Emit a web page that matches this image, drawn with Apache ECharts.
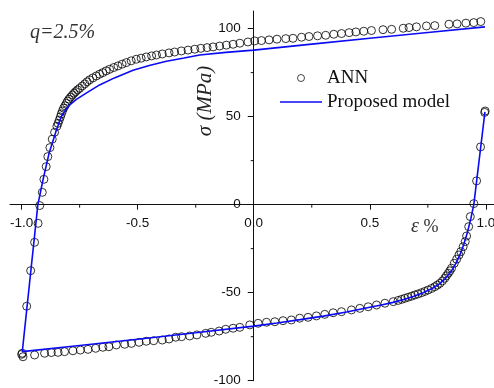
<!DOCTYPE html>
<html>
<head>
<meta charset="utf-8">
<script src="https://cdn.jsdelivr.net/npm/echarts@6/dist/echarts.min.js"></script>
<style>
html,body{margin:0;padding:0;background:#fff;}
#chart{width:494px;height:388px;}
</style>
</head>
<body>
<div id="chart"></div>
<script>
// ---- data ----
var annPoints = [
  [0.997,53.2],[0.995,52.4],[0.977,32.8],[0.960,13.5],[0.948,0.6],[0.933,-6.8],[0.926,-12.5],[0.917,-17.8],
  [0.911,-21.0],[0.902,-23.9],[0.892,-26.7],[0.884,-28.6],[0.874,-31.0],[0.864,-33.3],[0.852,-36.1],
  [0.845,-37.6],[0.838,-39.0],[0.830,-40.4],[0.823,-41.8],[0.813,-43.3],[0.802,-44.7],[0.791,-45.7],
  [0.780,-46.6],[0.766,-47.6],[0.751,-48.5],[0.737,-49.3],[0.723,-50.0],[0.708,-50.7],[0.694,-51.3],
  [0.680,-52.0],[0.665,-52.6],[0.651,-53.2],[0.637,-53.8],[0.622,-54.4],[0.601,-55.1],[0.565,-56.0],
  [0.529,-57.0],[0.493,-58.0],[0.457,-58.9],[0.421,-59.8],[0.378,-60.8],[0.342,-61.4],[0.306,-62.3],
  [0.270,-63.2],[0.234,-64.0],[0.198,-64.5],[0.162,-65.5],[0.126,-65.9],[0.091,-66.5],[0.055,-66.8],
  [0.019,-67.4],[-0.017,-68.3],[-0.060,-69.7],[-0.089,-70.2],[-0.121,-70.8],[-0.149,-71.8],[-0.183,-72.5],
  [-0.207,-73.1],[-0.245,-74.0],[-0.276,-74.6],[-0.311,-75.0],[-0.336,-75.3],[-0.365,-76.3],[-0.394,-76.9],
  [-0.431,-77.3],[-0.463,-77.6],[-0.494,-78.2],[-0.527,-78.8],[-0.556,-79.3],[-0.592,-79.7],[-0.624,-80.7],
  [-0.650,-81.0],[-0.681,-81.6],[-0.714,-82.2],[-0.747,-82.6],[-0.779,-83.0],[-0.815,-83.5],[-0.843,-83.9],
  [-0.872,-84.0],[-0.901,-84.4],[-0.944,-85.4],[-0.994,-86.4],[-0.997,-84.4],[-1.000,-85.0],
  [-0.978,-57.7],[-0.961,-37.5],[-0.944,-21.4],[-0.929,-10.6],[-0.922,-0.5],[-0.911,7.0],[-0.904,14.4],
  [-0.894,21.6],[-0.887,27.3],[-0.878,32.4],[-0.868,37.2],[-0.858,41.1],[-0.848,44.5],[-0.843,46.2],
  [-0.838,48.0],[-0.833,49.8],[-0.829,51.5],[-0.824,53.2],[-0.819,54.8],[-0.813,56.2],[-0.807,57.6],
  [-0.802,58.8],[-0.796,59.9],[-0.789,61.1],[-0.781,62.3],[-0.774,63.3],[-0.767,64.2],[-0.759,65.2],
  [-0.750,66.1],[-0.739,67.4],[-0.728,68.6],[-0.718,69.8],[-0.707,70.9],[-0.693,72.0],[-0.678,73.1],
  [-0.664,74.1],[-0.650,75.0],[-0.636,76.0],[-0.621,76.9],[-0.603,77.9],[-0.585,78.8],[-0.567,79.8],
  [-0.549,80.7],[-0.528,81.7],[-0.506,82.6],[-0.485,83.2],[-0.463,83.9],[-0.440,84.5],[-0.419,85.0],
  [-0.394,85.6],[-0.365,86.2],[-0.341,86.7],[-0.312,87.3],[-0.283,87.8],[-0.254,88.3],[-0.228,88.8],
  [-0.201,89.2],[-0.175,89.6],[-0.147,90.1],[-0.118,90.6],[-0.089,91.1],[-0.060,91.7],[-0.025,92.4],
  [0.004,93.0],[0.033,93.2],[0.066,93.6],[0.100,94.0],[0.138,94.3],[0.169,94.5],[0.206,95.1],[0.238,95.5],
  [0.275,95.9],[0.310,96.2],[0.345,96.8],[0.378,97.2],[0.411,97.7],[0.440,98.1],[0.474,98.5],[0.507,98.9],
  [0.557,99.4],[0.594,99.6],[0.644,100.2],[0.669,100.6],[0.701,101.0],[0.744,101.5],[0.780,101.7],
  [0.841,102.5],[0.876,102.7],[0.914,103.1],[0.948,103.4],[0.978,104.0]
];
var modelPoints = [
  [0.996,52.7],[0.948,0],[0.935,-8],[0.920,-16],[0.905,-22.5],[0.890,-28],[0.870,-33.5],[0.850,-38],
  [0.825,-42],[0.800,-45],[0.770,-47.5],[0.730,-50],[0.690,-52],[0.650,-53.7],[0.600,-55.5],[0.550,-57],
  [0.500,-58.3],[0.400,-61],[0.300,-63.3],[0.200,-65.3],[0.100,-67.2],[0.000,-69.0],[-0.250,-72.8],
  [-0.500,-76.5],[-0.750,-80.0],[-0.997,-83.5],[-0.930,0],[-0.908,14],[-0.882,29],[-0.850,42.4],
  [-0.829,50],[-0.810,54],[-0.790,57],[-0.764,59.8],[-0.720,63.5],[-0.664,68],[-0.600,72],[-0.520,76.3],
  [-0.450,79],[-0.376,81.5],[-0.300,83.3],[-0.233,85],[-0.120,86.5],[0.000,87.8],[0.250,91.2],
  [0.500,94.5],[0.750,97.8],[0.996,101]
];
var seriesNames = ['ANN', 'Proposed model'];
var xTicks = [-1.0, -0.5, 0.0, 0.5, 1.0];
var xTickLabels = ['-1.0', '-0.5', '0.0', '0.5', '1.0'];
var xMinorTicks = [-0.75, -0.25, 0.25, 0.75];
var yTicks = [-100, -50, 0, 50, 100];
var yTickLabels = ['-100', '-50', '0', '50', '100'];
var yMinorTicks = [-75, -25, 25, 75];
var xRange = [-1.05, 1.035];
var yRange = [-100, 110];

var chart = echarts.init(document.getElementById('chart'), null, {renderer: 'canvas'});
var lineCol = '#111';
var tickFont = '13.5px "Liberation Sans", Arial, sans-serif';

var option = {
  animation: false,
  backgroundColor: '#fff',
  grid: {left: 10, right: 0, top: 11, bottom: 7.3, containLabel: false, outerBoundsMode: 'none'},
  xAxis: {
    type: 'value', min: xRange[0], max: xRange[1],
    axisLine: {show: true, onZero: true, lineStyle: {color: lineCol, width: 1}},
    axisTick: {show: true, inside: false, length: 5, customValues: xTicks, lineStyle: {color: lineCol}},
    axisLabel: {show: false},
    splitLine: {show: false}
  },
  yAxis: {
    type: 'value', min: yRange[0], max: yRange[1],
    axisLine: {show: true, onZero: true, lineStyle: {color: lineCol, width: 1}},
    axisTick: {show: true, inside: false, length: 6, customValues: yTicks, lineStyle: {color: lineCol}},
    axisLabel: {show: false},
    splitLine: {show: false}
  },
  legend: {
    orient: 'vertical', left: 280, top: 68.5, padding: 0,
    itemWidth: 42, itemHeight: 7, itemGap: 5,
    itemStyle: {borderWidth: 0.9},
    data: [{name: seriesNames[0], icon: 'circle'},
           {name: seriesNames[1], icon: 'path://M0,0 L42,0 L42,1.7 L0,1.7 Z'}],
    textStyle: {fontFamily: '"Liberation Serif", "Times New Roman", serif', fontSize: 19, color: '#111'}
  },
  series: [{
    name: seriesNames[0], type: 'scatter', data: annPoints,
    symbol: 'circle', symbolSize: 8,
    itemStyle: {color: 'rgba(0,0,0,0)', borderColor: '#000', borderWidth: 1},
    emphasis: {disabled: true}
  }, {
    name: seriesNames[1], type: 'line', data: modelPoints,
    showSymbol: false, symbol: 'none', smooth: false,
    lineStyle: {color: '#0a0af5', width: 1.6},
    itemStyle: {color: '#0a0af5'},
    emphasis: {disabled: true}
  }]
};
chart.setOption(option);

// texts, tick labels and minor ticks, positioned through the chart's own scales
var x0 = chart.convertToPixel({xAxisIndex: 0}, 0);
var y0 = chart.convertToPixel({yAxisIndex: 0}, 0);
var g = [
  {type: 'text', x: 30, y: 33, style: {text: 'q=2.5%', font: 'italic 20px "Liberation Serif", serif', fill: '#333', textVerticalAlign: 'middle', verticalAlign: 'middle'}},
  {type: 'text', x: 411, y: 227, style: {
    text: '{a|ε}{b| %}', textVerticalAlign: 'middle', verticalAlign: 'middle',
    rich: {a: {font: 'italic 20px "Liberation Serif", serif', fill: '#333', color: '#333'},
           b: {font: '18px "Liberation Serif", serif', fill: '#333', color: '#333'}}
  }},
  {type: 'text', x: 205, y: 101, rotation: Math.PI / 2, style: {
    text: 'σ (MPa)', font: 'italic 21px "Liberation Serif", serif', fill: '#222',
    textAlign: 'center', align: 'center', textVerticalAlign: 'middle', verticalAlign: 'middle'
  }}
];
xTicks.forEach(function (v, i) {
  var px = chart.convertToPixel({xAxisIndex: 0}, v);
  g.push({type: 'text', x: px, y: y0 + 12, z: 6, style: {text: xTickLabels[i], font: tickFont, fill: '#111',
    textAlign: 'center', align: 'center', textVerticalAlign: 'top', verticalAlign: 'top'}});
});
yTicks.forEach(function (v, i) {
  var py = chart.convertToPixel({yAxisIndex: 0}, v);
  g.push({type: 'text', x: x0 - 13, y: py, z: 6, style: {text: yTickLabels[i], font: tickFont, fill: '#111',
    textAlign: 'right', align: 'right', textVerticalAlign: 'middle', verticalAlign: 'middle'}});
});
xMinorTicks.forEach(function (v) {
  var px = chart.convertToPixel({xAxisIndex: 0}, v);
  g.push({type: 'line', shape: {x1: px, y1: y0, x2: px, y2: y0 + 3}, style: {stroke: lineCol, lineWidth: 1}, z: 5});
});
yMinorTicks.forEach(function (v) {
  var py = chart.convertToPixel({yAxisIndex: 0}, v);
  g.push({type: 'line', shape: {x1: x0 - 3, y1: py, x2: x0, y2: py}, style: {stroke: lineCol, lineWidth: 1}, z: 5});
});
chart.setOption({graphic: g});
</script>
</body>
</html>
